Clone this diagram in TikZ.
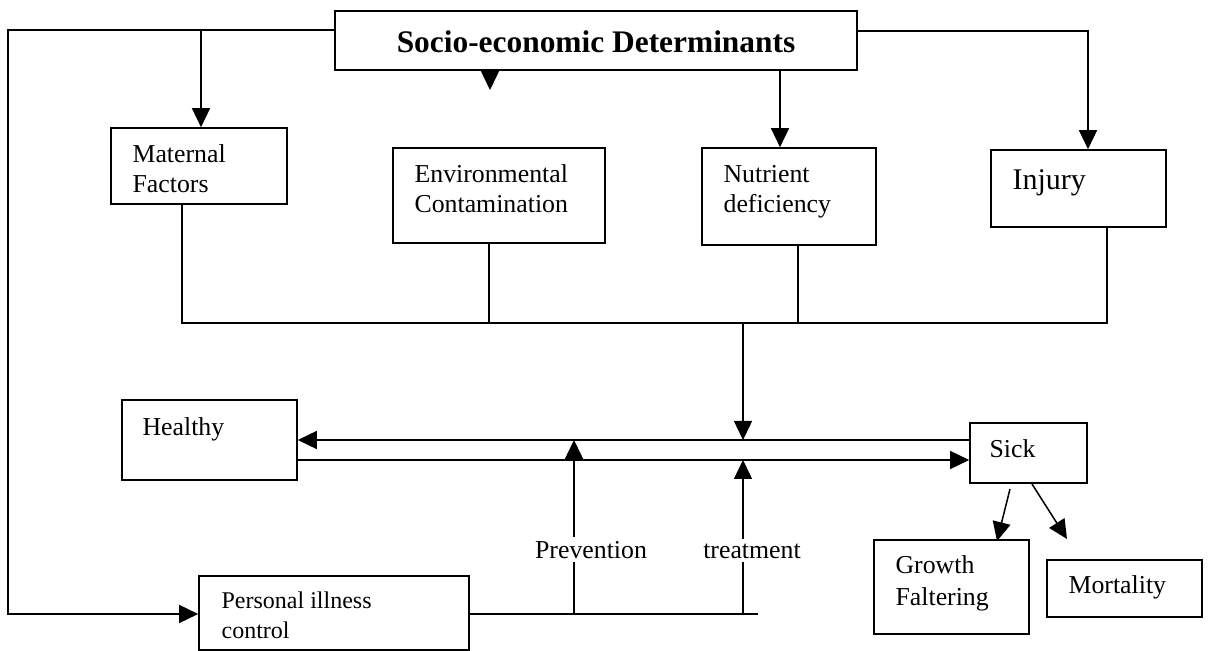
\documentclass[tikz,border=0pt]{standalone}
\usepackage{fontspec}
\setmainfont{Liberation Serif}
\usetikzlibrary{arrows.meta,fit,calc}
\begin{document}
\begin{tikzpicture}[x=0.5pt,y=-0.5pt,
  bx/.style={draw, line width=0.8pt, inner sep=0pt},
  txt/.style={anchor=base west, inner sep=0pt, align=left, font=\fontsize{12.9}{15}\selectfont},
  lbl/.style={anchor=base, inner sep=2pt, fill=white, font=\fontsize{12.9}{15}\selectfont},
  ln/.style={line width=0.75pt},
  arr/.style={-{Triangle[length=9.5pt,width=9pt]}}]
\useasboundingbox[fill=white] (0,0) rectangle (1209,651);

% boxes
\node[bx, fit={(335,11) (857,70)}] (socio) {};
\node[bx, fit={(111,128) (287,204)}] (mat) {};
\node[bx, fit={(393,148) (605,243)}] (env) {};
\node[bx, fit={(702,148) (876,245)}] (nut) {};
\node[bx, fit={(991,150) (1166,227)}] (inj) {};
\node[bx, fit={(122,400) (297,480)}] (hea) {};
\node[bx, fit={(199,576) (469,650)}] (pic) {};
\node[bx, fit={(970,423) (1087,483)}] (sick) {};
\node[bx, fit={(874,540) (1029,634)}] (gro) {};
\node[bx, fit={(1047,560) (1202,617)}] (mor) {};

% texts (base anchor = baseline of the last line)
\node[anchor=base, inner sep=0pt, font=\fontsize{15.7}{18}\selectfont\bfseries] (sociot) at (596,53) {Socio-economic Determinants};
\node[txt] (matt) at ($(mat.north west)+(22,65)$) {Maternal\\Factors};
\node[txt] (envt) at ($(env.north west)+(22,65)$) {Environmental\\Contamination};
\node[txt] (nutt) at ($(nut.north west)+(22,65)$) {Nutrient\\deficiency};
\node[txt, font=\fontsize{15}{17}\selectfont] (injt) at ($(inj.north west)+(22,40)$) {Injury};
\node[txt] (heat) at ($(hea.north west)+(21,36)$) {Healthy};
\node[txt, font=\fontsize{12}{15}\selectfont] (pict) at ($(pic.north west)+(23,63)$) {Personal illness\\control};
\node[txt] (sickt) at ($(sick.north west)+(20,35)$) {Sick};
\node[txt, font=\fontsize{12.9}{16}\selectfont] (grot) at ($(gro.north west)+(22,66)$) {Growth\\Faltering};
\node[txt] (mort) at ($(mor.north west)+(22,34)$) {Mortality};

% coordinates
\coordinate (tl) at (8,30);
\coordinate (bl) at (8,614);
\coordinate (m1) at (201,30);
\coordinate (tr) at (1088,31);
\coordinate (e1) at (490,90);
\coordinate (n1) at (780,0);
\coordinate (c1) at (182,323);
\coordinate (c2) at (489,323);
\coordinate (c3) at (798,323);
\coordinate (c4) at (1107,323);
\coordinate (d1) at (743,323);
\coordinate (lo) at (297,460);
\coordinate (b1) at (758,614);
\coordinate (p1) at (574,614);
\coordinate (t1) at (743,614);
\coordinate (s1) at (1010,489);
\coordinate (g1) at (997,541);
\coordinate (s2) at (1032,484);
\coordinate (m2) at (1067,539);

% connectors
\draw[ln,arr] (socio.west |- tl) -- (tl) -- (bl) -- (pic.west |- bl);
\draw[ln,arr] (m1) -- (m1 |- mat.north);
\draw[ln,arr] (socio.east |- tr) -- (tr) -- (tr |- inj.north);
\draw[ln,arr] (e1 |- socio.south) -- (e1);
\draw[ln,arr] (n1 |- socio.south) -- (n1 |- nut.north);
\draw[ln] (c1 |- mat.south) -- (c1) -- (c4) -- (c4 |- inj.south);
\draw[ln] (c2 |- env.south) -- (c2);
\draw[ln] (c3 |- nut.south) -- (c3);
\draw[ln,arr] (d1) -- (d1 |- hea.east);
\draw[ln,arr] (sick.west |- hea.east) -- (hea.east);
\draw[ln,arr] (hea.east |- lo) -- (sick.west |- lo);
\draw[ln] (pic.east |- b1) -- (b1);
\draw[ln,arr] (p1) -- (p1 |- hea.east);
\draw[ln,arr] (t1) -- (t1 |- lo);
\draw[ln,arr] (s1) -- (g1);
\draw[ln,arr] (s2) -- (m2);

% labels on the vertical lines
\node[lbl] (prev) at (591,558) {Prevention};
\node[lbl] (treat) at (752,558) {treatment};
\end{tikzpicture}
\end{document}
